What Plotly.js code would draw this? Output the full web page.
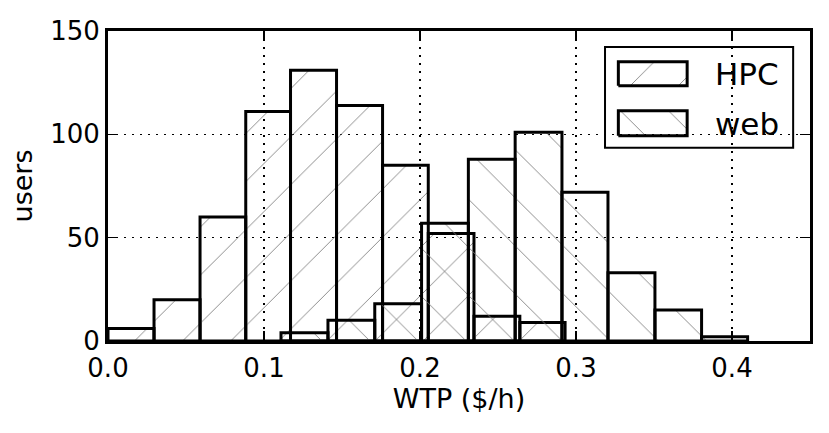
<!DOCTYPE html>
<html>
<head>
<meta charset="utf-8">
<script src="https://cdn.plot.ly/plotly-3.0.1.min.js"></script>
<style>
  html, body { margin: 0; padding: 0; background: #fff; }
  #chart { width: 829px; height: 433px; }
</style>
</head>
<body>
<div id="chart"></div>
<script>
// Histogram bin edges (WTP, $/h) and counts
const hpcEdges = [0.0, 0.0295, 0.059, 0.0883, 0.117, 0.1465, 0.176, 0.2053, 0.2346, 0.264, 0.293];
const hpcCounts = [6, 20, 60, 111, 131, 114, 85, 52, 12, 9];

const webEdges = [0.1109, 0.141, 0.171, 0.201, 0.231, 0.261, 0.291, 0.3205, 0.3506, 0.3805, 0.410];
const webCounts = [4, 10, 18, 57, 88, 101, 72, 33, 15, 2];

const seriesNames = ['HPC', 'web'];
const xTicks = [0.0, 0.1, 0.2, 0.3, 0.4];
const yTicks = [0, 50, 100, 150];

const FONT = 'DejaVu Sans, Bitstream Vera Sans, sans-serif';
const HATCH = { fgcolor: '#7a7a7a', bgcolor: 'rgba(0,0,0,0)', size: 34, solidity: 0.025 };

const mids = e => e.slice(0, -1).map((v, i) => (v + e[i + 1]) / 2);
const widths = e => e.slice(0, -1).map((v, i) => e[i + 1] - v);

function histTrace(name, edges, counts, shape) {
    return {
        type: 'bar',
        name: name,
        x: mids(edges),
        y: counts,
        width: widths(edges),
        marker: {
            color: 'rgba(0,0,0,0)',
            line: { color: '#000', width: 3 },
            pattern: { ...HATCH, shape: shape },
        },
        hoverinfo: 'x+y+name',
        showlegend: false,
    };
}

// Legend glyphs, drawn on an overlay axis that spans the plot area (0..1)
function glyph(x0, x1, y0, y1, shape) {
    return {
        type: 'scatter',
        xaxis: 'x2',
        yaxis: 'y2',
        x: [x0, x1, x1, x0, x0],
        y: [y0, y0, y1, y1, y0],
        mode: 'lines',
        fill: 'toself',
        fillcolor: 'rgba(0,0,0,0)',
        fillpattern: { ...HATCH, shape: shape },
        line: { color: '#000', width: 3 },
        hoverinfo: 'skip',
        showlegend: false,
    };
}

const traces = [
    histTrace(seriesNames[0], hpcEdges, hpcCounts, '/'),
    histTrace(seriesNames[1], webEdges, webCounts, '\\'),
    glyph(0.727, 0.825, 0.823, 0.901, '/'),
    glyph(0.727, 0.825, 0.662, 0.743, '\\'),
];

const axisCommon = {
    showline: true,
    linecolor: '#000',
    linewidth: 3,
    mirror: 'ticks',
    ticks: 'inside',
    ticklen: 10,
    tickwidth: 1.5,
    tickcolor: '#000',
    showgrid: true,
    gridcolor: '#000',
    gridwidth: 1.3,
    griddash: '2px,6px',
    zeroline: false,
    tickfont: { family: FONT, size: 26, color: '#000' },
};

const layout = {
    width: 829,
    height: 433,
    margin: { l: 108, r: 19, t: 31, b: 92 },
    paper_bgcolor: '#fff',
    plot_bgcolor: '#fff',
    barmode: 'overlay',
    font: { family: FONT, color: '#000' },
    showlegend: false,
    xaxis: {
        ...axisCommon,
        range: [0, 0.45],
        tickvals: xTicks,
        tickformat: '.1f',
        ticklabelstandoff: 2,
        title: { text: 'WTP ($/h)', font: { family: FONT, size: 27 }, standoff: 6 },
    },
    yaxis: {
        ...axisCommon,
        range: [0, 150],
        tickvals: yTicks,
        title: { text: 'users', font: { family: FONT, size: 27 }, standoff: 10 },
    },
    xaxis2: { overlaying: 'x', range: [0, 1], visible: false, fixedrange: true },
    yaxis2: { overlaying: 'y', range: [0, 1], visible: false, fixedrange: true },
    shapes: [{
        type: 'rect', xref: 'paper', yref: 'paper', layer: 'between',
        x0: 0.708, x1: 0.976, y0: 0.623, y1: 0.948,
        fillcolor: '#fff',
        line: { color: '#000', width: 2 },
    }],
    annotations: [
        { text: seriesNames[0], xref: 'paper', yref: 'paper', x: 0.862, y: 0.860,
          xanchor: 'left', yanchor: 'middle', showarrow: false,
          font: { family: FONT, size: 31, color: '#000' } },
        { text: seriesNames[1], xref: 'paper', yref: 'paper', x: 0.862, y: 0.701,
          xanchor: 'left', yanchor: 'middle', showarrow: false,
          font: { family: FONT, size: 31, color: '#000' } },
    ],
};

Plotly.newPlot('chart', traces, layout, { displayModeBar: false, staticPlot: true });
</script>
</body>
</html>
